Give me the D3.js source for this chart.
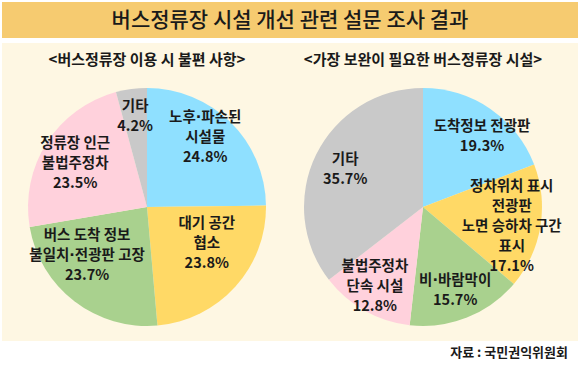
<!DOCTYPE html>
<html><head><meta charset="utf-8">
<script src="https://cdn.jsdelivr.net/npm/d3@7"></script>
<style>body{margin:0;background:#fff}svg{display:block}text{font-family:"Noto Sans CJK KR","Noto Sans",sans-serif;fill:#1a1a1a}</style>
</head><body>
<svg id="c" width="580" height="368"></svg>
<script>
const title = "버스정류장 시설 개선 관련 설문 조사 결과";
const source = "자료 : 국민권익위원회";

const leftTitle = "<버스정류장 이용 시 불편 사항>";
const leftLabels = [["노후·파손된","시설물"],["대기 공간","협소"],["버스 도착 정보","불일치·전광판 고장"],["정류장 인근","불법주정차"],["기타"]];
const leftValues = [24.8, 23.8, 23.7, 23.5, 4.2];

const rightTitle = "<가장 보완이 필요한 버스정류장 시설>";
const rightLabels = [["도착정보 전광판"],["정차위치 표시","전광판","노면 승하차 구간","표시"],["비·바람막이"],["불법주정차","단속 시설"],["기타"]];
const rightValues = [19.3, 17.1, 15.7, 12.8, 35.7];

const colors = ["#8FE0FF","#FFD966","#A9D18E","#FFD1DC","#C9C9C9"];
const leftNudge = [[-5,-6],[-7,-24],[-5,-23],[4,4],[0,-2]];
const rightNudge = [[8,3],[0,4],[-1,-1],[-4,0],[3,2]];

const svg = d3.select("#c");
svg.append("rect").attr("x",2).attr("y",2).attr("width",576).attr("height",36).attr("fill","#F6CB70");
svg.append("rect").attr("x",2).attr("y",43).attr("width",576).attr("height",298).attr("fill","#FEF7E3");
svg.append("text").attr("x",290).attr("y",20).attr("dy","0.35em").attr("text-anchor","middle")
  .style("font-size","21px").style("font-weight","500").text(title);
svg.append("text").attr("x",568).attr("y",352).attr("dy","0.35em").attr("text-anchor","end")
  .style("font-size","13px").style("font-weight","bold").text(source);

function addLine(t, x, y, str){
  const parts = str.split("·");
  parts.forEach((p,k)=>{
    const s = t.append("tspan");
    if(k===0){ s.attr("x",x).attr("y",y).attr("dy","0.35em"); }
    s.text(p);
    if(k<parts.length-1){
      t.append("tspan").style("font-family","'DejaVu Sans'").text("·");
    }
  });
}

function drawPie(cx, cy, r, heading, labels, values, nudge){
  const g = svg.append("g").attr("transform",`translate(${cx},${cy})`);
  svg.append("text").attr("x",cx).attr("y",60).attr("dy","0.35em").attr("text-anchor","middle")
    .style("font-size","15px").style("font-weight","bold").text(heading);
  const pie = d3.pie().sort(null).value(d=>d);
  const arcs = pie(values);
  const arc = d3.arc().innerRadius(0).outerRadius(r);
  const labelArc = d3.arc().innerRadius(90).outerRadius(90);
  g.selectAll("path").data(arcs).join("path").attr("d",arc).attr("fill",(d,i)=>colors[i]);
  const lh = 20;
  arcs.forEach((a,i)=>{
    const [x,y] = labelArc.centroid(a);
    const lines = labels[i].concat([values[i].toFixed(1)+"%"]);
    const px = x + nudge[i][0], py = y + nudge[i][1];
    lines.forEach((l,j)=>{
      const t = g.append("text").attr("text-anchor","middle")
        .style("font-size","14.5px").style("font-weight","bold");
      addLine(t, px, py + (j-(lines.length-1)/2)*lh, l);
    });
  });
}
drawPie(147, 207, 119, leftTitle, leftLabels, leftValues, leftNudge);
drawPie(423, 207, 119, rightTitle, rightLabels, rightValues, rightNudge);
</script>
</body></html>
